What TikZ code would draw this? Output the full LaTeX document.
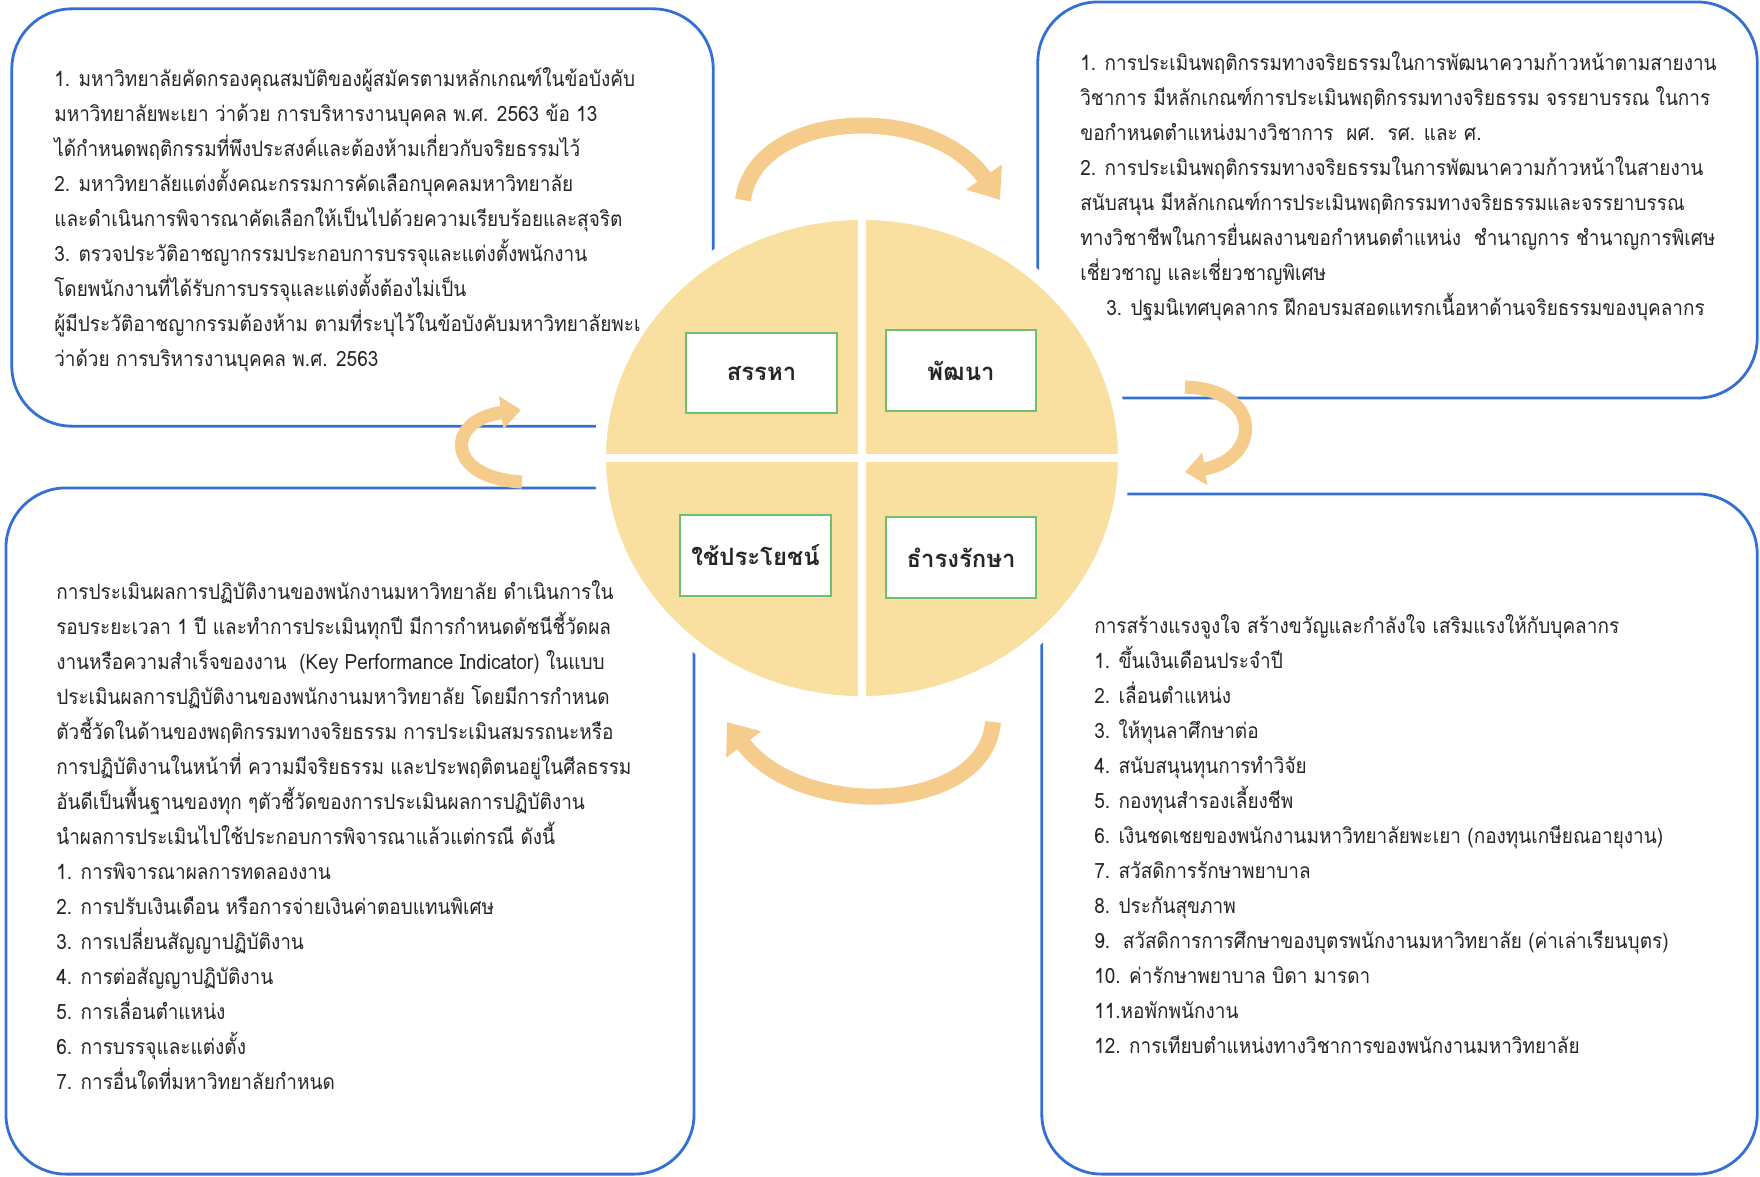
\documentclass[tikz,border=0pt]{standalone}
\usepackage{fontspec}
\setmainfont[Script=Thai]{Loma}
\newfontfamily\bodyfont[Script=Thai,FakeStretch=0.9]{Loma}
\usepackage{tikz}
\usetikzlibrary{shapes.geometric,positioning,calc,arrows.meta}

\definecolor{panelblue}{RGB}{52,112,212}
\definecolor{wheelgold}{RGB}{249,224,160}
\definecolor{tabgreen}{RGB}{112,190,112}
\definecolor{cyclefill}{RGB}{246,204,140}
\definecolor{bodyink}{RGB}{38,38,38}

\begin{document}
\begin{tikzpicture}[x=0.025cm, y=-0.025cm,
    panel/.style={rectangle, draw=panelblue, line width=0.07cm, rounded corners=1.5cm, inner sep=0pt},
    tab/.style={rectangle, draw=tabgreen, line width=0.05cm, fill=white, minimum width=3.75cm, minimum height=2cm, font=\fontsize{17}{20}\selectfont\bfseries, text=bodyink},
    bodytext/.style={anchor=north west, align=left, inner sep=0pt, text=bodyink, font=\bodyfont\fontsize{15}{24.9}\selectfont},
    cyclearrow/.style={draw=cyclefill, line width=0.4cm, -{Triangle[width=1.05cm,length=0.7cm]}},
    sidearrow/.style={draw=cyclefill, line width=0.33cm, -{Triangle[width=0.8cm,length=0.5cm]}}]
    \useasboundingbox (0,0) rectangle (1760,1176);

    % Panels - one in each corner, partly hidden by the wheel
    \node[panel, minimum width=17.53cm, minimum height=10.43cm] (recruitpanel) at (362.5,217.5) {};
    \node[panel, minimum width=17.98cm, minimum height=9.9cm] (developpanel) at (1397.5,200) {};
    \node[panel, minimum width=17.2cm, minimum height=17.15cm] (utilizepanel) at (350,831) {};
    \node[panel, minimum width=17.88cm, minimum height=17cm] (retainpanel) at (1399.5,834) {};

    % Wheel - four quarters split by white gaps
    \node[ellipse, fill=wheelgold, draw=white, line width=0.3cm, minimum width=13.1cm, minimum height=12.2cm, inner sep=0pt] (wheel) at (862,458) {};
    \draw[white, line width=0.18cm] (wheel.north) -- (wheel.south);
    \draw[white, line width=0.2cm] (wheel.west) -- (wheel.east);

    % Quarter labels
    \node[tab] (recruit) at (761.5,373) {สรรหา};
    \node[tab] (develop) at (961,370.5) {พัฒนา};
    \node[tab] (utilize) at (755.5,555.5) {ใช้ประโยชน์};
    \node[tab] (retain) at (961,557.5) {ธำรงรักษา};

    % Cycle arrows round the wheel
    \coordinate (topA) at (743,200);
    \coordinate (topB) at (1000,200);
    \coordinate (rightA) at (1185,387);
    \coordinate (rightB) at (1185,472);
    \coordinate (botA) at (993,722);
    \coordinate (botB) at (727,722);
    \coordinate (leftA) at (522,482);
    \coordinate (leftB) at (521,410);
    \draw[cyclearrow] (topA) .. controls (755,110) and (930,100) .. (topB);
    \draw[sidearrow] (rightA) .. controls (1265,390) and (1260,460) .. (rightB);
    \draw[cyclearrow] (botA) .. controls (985,815) and (800,820) .. (botB);
    \draw[sidearrow] (leftA) .. controls (445,478) and (445,420) .. (leftB);

    % Panel texts
    \node[bodytext] (recruittext) at (54,67) {%
        1. มหาวิทยาลัยคัดกรองคุณสมบัติของผู้สมัครตามหลักเกณฑ์ในข้อบังคับ\\
        มหาวิทยาลัยพะเยา ว่าด้วย การบริหารงานบุคคล พ.ศ. 2563 ข้อ 13\\
        ได้กำหนดพฤติกรรมที่พึงประสงค์และต้องห้ามเกี่ยวกับจริยธรรมไว้\\
        2. มหาวิทยาลัยแต่งตั้งคณะกรรมการคัดเลือกบุคคลมหาวิทยาลัย\\
        และดำเนินการพิจารณาคัดเลือกให้เป็นไปด้วยความเรียบร้อยและสุจริต\\
        3. ตรวจประวัติอาชญากรรมประกอบการบรรจุและแต่งตั้งพนักงาน\\
        โดยพนักงานที่ได้รับการบรรจุและแต่งตั้งต้องไม่เป็น\\
        ผู้มีประวัติอาชญากรรมต้องห้าม ตามที่ระบุไว้ในข้อบังคับมหาวิทยาลัยพะเ\\
        ว่าด้วย การบริหารงานบุคคล พ.ศ. 2563};
    \node[bodytext] (developtext) at (1080,51) {%
        1. การประเมินพฤติกรรมทางจริยธรรมในการพัฒนาความก้าวหน้าตามสายงาน\\
        วิชาการ มีหลักเกณฑ์การประเมินพฤติกรรมทางจริยธรรม จรรยาบรรณ ในการ\\
        ขอกำหนดตำแหน่งมางวิชาการ\ \ ผศ.\ \ รศ. และ ศ.\\
        2. การประเมินพฤติกรรมทางจริยธรรมในการพัฒนาความก้าวหน้าในสายงาน\\
        สนับสนุน มีหลักเกณฑ์การประเมินพฤติกรรมทางจริยธรรมและจรรยาบรรณ\\
        ทางวิชาชีพในการยื่นผลงานขอกำหนดตำแหน่ง\ \ ชำนาญการ ชำนาญการพิเศษ\\
        เชี่ยวชาญ และเชี่ยวชาญพิเศษ\\
        \hspace*{0.65cm}3. ปฐมนิเทศบุคลากร ฝึกอบรมสอดแทรกเนื้อหาด้านจริยธรรมของบุคลากร};
    \node[bodytext] (utilizetext) at (56,580) {%
        การประเมินผลการปฏิบัติงานของพนักงานมหาวิทยาลัย ดำเนินการใน\\
        รอบระยะเวลา 1 ปี และทำการประเมินทุกปี มีการกำหนดดัชนีชี้วัดผล\\
        งานหรือความสำเร็จของงาน\ \ (Key Performance Indicator) ในแบบ\\
        ประเมินผลการปฏิบัติงานของพนักงานมหาวิทยาลัย โดยมีการกำหนด\\
        ตัวชี้วัดในด้านของพฤติกรรมทางจริยธรรม การประเมินสมรรถนะหรือ\\
        การปฏิบัติงานในหน้าที่ ความมีจริยธรรม และประพฤติตนอยู่ในศีลธรรม\\
        อันดีเป็นพื้นฐานของทุก ๆตัวชี้วัดของการประเมินผลการปฏิบัติงาน\\
        นำผลการประเมินไปใช้ประกอบการพิจารณาแล้วแต่กรณี ดังนี้\\
        1. การพิจารณาผลการทดลองงาน\\
        2. การปรับเงินเดือน หรือการจ่ายเงินค่าตอบแทนพิเศษ\\
        3. การเปลี่ยนสัญญาปฏิบัติงาน\\
        4. การต่อสัญญาปฏิบัติงาน\\
        5. การเลื่อนตำแหน่ง\\
        6. การบรรจุและแต่งตั้ง\\
        7. การอื่นใดที่มหาวิทยาลัยกำหนด};
    \node[bodytext] (retaintext) at (1094,614) {%
        การสร้างแรงจูงใจ สร้างขวัญและกำลังใจ เสริมแรงให้กับบุคลากร\\
        1. ขึ้นเงินเดือนประจำปี\\
        2. เลื่อนตำแหน่ง\\
        3. ให้ทุนลาศึกษาต่อ\\
        4. สนับสนุนทุนการทำวิจัย\\
        5. กองทุนสำรองเลี้ยงชีพ\\
        6. เงินชดเชยของพนักงานมหาวิทยาลัยพะเยา (กองทุนเกษียณอายุงาน)\\
        7. สวัสดิการรักษาพยาบาล\\
        8. ประกันสุขภาพ\\
        9.\ \ สวัสดิการการศึกษาของบุตรพนักงานมหาวิทยาลัย (ค่าเล่าเรียนบุตร)\\
        10. ค่ารักษาพยาบาล บิดา มารดา\\
        11.หอพักพนักงาน\\
        12. การเทียบตำแหน่งทางวิชาการของพนักงานมหาวิทยาลัย};
\end{tikzpicture}
\end{document}
